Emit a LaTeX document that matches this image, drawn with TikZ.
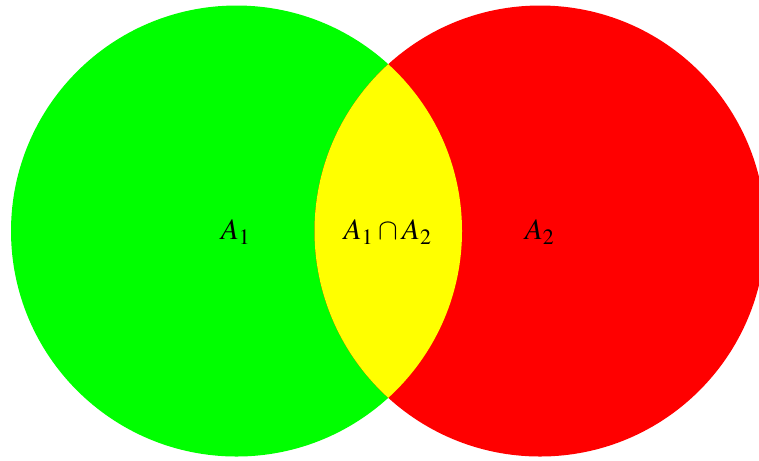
\documentclass[tikz,border=0pt]{standalone}
\usepackage{mathptmx}
\definecolor{vgreen}{RGB}{0,255,0}
\definecolor{vred}{RGB}{255,0,0}
\definecolor{vyellow}{RGB}{255,255,0}
\begin{document}
\begin{tikzpicture}[x=0.3788pt,y=-0.3788pt,
  lbl/.style={inner sep=0pt, font=\fontsize{11.2}{13}\selectfont}]
\useasboundingbox (0,0) rectangle (759,460);
\clip (0,0) rectangle (759,460);
\coordinate (c1) at (236.5,231);
\coordinate (c2) at (540,231);
\fill[vgreen] (c1) circle[radius=225.5];
\fill[vred] (c2) circle[radius=225.5];
\begin{scope}
  \clip (c1) circle[radius=225.5];
  \fill[vyellow] (c2) circle[radius=225.5];
\end{scope}
\node[lbl] (a1) at (236,232) {$A_1$};
\node[lbl] (a12) at (388,232) {$A_1\cap A_2$};
\node[lbl] (a2) at (540,232) {$A_2$};
\end{tikzpicture}
\end{document}
